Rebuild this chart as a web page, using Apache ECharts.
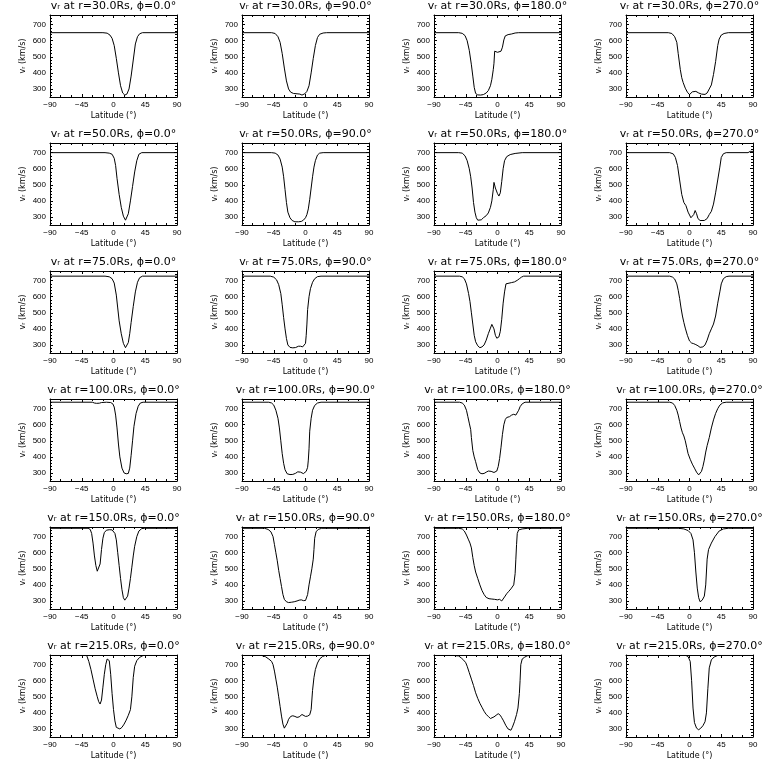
<!DOCTYPE html>
<html><head><meta charset="utf-8">
<script src="https://cdn.jsdelivr.net/npm/echarts@6/dist/echarts.min.js"></script>
<style>html,body{margin:0;padding:0;background:#fff}#c{width:768px;height:768px}</style>
</head><body><div id="c"></div>
<script>
// ---------- data ----------
const radii = [30, 50, 75, 100, 150, 215];
const phis = [0, 90, 180, 270];
const latTicks = [-90, -45, 0, 45, 90];
const velTicks = [300, 400, 500, 600, 700];
const velMinorTicks = [260, 280, 300, 320, 340, 360, 380, 400, 420, 440, 460, 480, 500, 520, 540, 560, 580, 600, 620, 640, 660, 680, 700, 720, 740];

// r = 30 Rs
const r30_p0 = [[-90,650],[-15,650],[-9,647],[-5,635],[-2,615],[1,570],[4,490],[7,400],[10,320],[13,275],[16,262],[19,268],[22,300],[25,380],[28,480],[31,580],[34,625],[37,643],[41,650],[90,650]];
const r30_p90 = [[-90,650],[-48,650],[-43,645],[-39,625],[-36,590],[-33,520],[-30,430],[-27,350],[-24,300],[-21,280],[-17,272],[-12,270],[-8,268],[-5,262],[-3,266],[-1,270],[2,285],[5,320],[8,400],[11,490],[14,570],[17,620],[20,640],[25,648],[30,650],[90,650]];
const r30_p180 = [[-90,650],[-55,650],[-50,646],[-46,632],[-43,600],[-40,540],[-37,450],[-35,380],[-33,310],[-31,272],[-28,263],[-24,262],[-20,265],[-16,275],[-13,290],[-10,320],[-8,360],[-6,420],[-5,460],[-4,535],[-2,538],[0,528],[2,518],[5,535],[7,560],[9,605],[11,630],[15,638],[20,642],[25,648],[30,650],[90,650]];
const r30_p270 = [[-90,650],[-30,650],[-25,645],[-21,625],[-18,590],[-16,520],[-13,420],[-11,370],[-9,340],[-6,305],[-3,280],[0,265],[2,268],[4,282],[6,290],[9,285],[13,275],[17,268],[22,266],[25,275],[28,300],[31,325],[34,390],[37,470],[40,570],[42,610],[45,635],[49,645],[55,650],[90,650]];

// r = 50 Rs
const r50_p0 = [[-90,700],[-12,700],[-6,697],[-2,690],[1,665],[3,620],[5,540],[8,440],[11,360],[14,305],[17,280],[19,285],[21,320],[24,400],[27,490],[30,580],[33,650],[36,690],[40,700],[90,700]];
const r50_p90 = [[-90,700],[-48,700],[-43,697],[-39,685],[-36,660],[-33,610],[-31,550],[-29,470],[-27,390],[-25,330],[-22,295],[-19,278],[-15,270],[-10,270],[-6,272],[-3,280],[0,295],[2,315],[4,350],[6,410],[8,480],[10,550],[12,610],[14,650],[17,685],[20,697],[25,700],[90,700]];
const r50_p180 = [[-90,700],[-55,700],[-50,697],[-46,680],[-43,650],[-40,600],[-38,550],[-36,480],[-34,390],[-32,330],[-30,295],[-28,280],[-26,268],[-23,282],[-20,295],[-16,308],[-13,325],[-10,360],[-8,400],[-6,470],[-5,515],[-3,480],[0,445],[2,430],[4,450],[6,520],[8,600],[10,650],[13,675],[18,688],[25,695],[35,700],[90,700]];
const r50_p270 = [[-90,700],[-28,700],[-23,692],[-20,670],[-17,620],[-14,530],[-11,440],[-8,390],[-5,370],[-2,330],[2,295],[4,285],[6,315],[8,340],[10,320],[12,290],[15,278],[21,278],[25,290],[28,315],[31,335],[34,380],[37,450],[40,530],[43,610],[45,670],[48,693],[52,700],[83,700],[86,708],[88,712],[90,708]];

// r = 75 Rs
const r75_p0 = [[-90,728],[-12,728],[-6,724],[-2,712],[1,685],[4,610],[6,530],[8,450],[11,370],[14,310],[17,283],[19,285],[21,315],[23,370],[25,440],[28,540],[31,630],[34,690],[37,718],[41,728],[90,728]];
const r75_p90 = [[-90,728],[-50,728],[-45,722],[-41,705],[-38,675],[-35,620],[-33,550],[-31,470],[-29,400],[-27,340],[-25,300],[-22,285],[-18,282],[-14,284],[-10,292],[-7,292],[-4,288],[-2,292],[0,310],[1,360],[2,430],[3,520],[5,600],[7,650],[10,690],[13,712],[17,725],[22,728],[90,728]];
const r75_p180 = [[-90,728],[-54,728],[-50,724],[-47,712],[-44,680],[-41,620],[-39,570],[-37,500],[-35,430],[-33,360],[-31,320],[-28,295],[-25,283],[-22,288],[-19,300],[-16,330],[-13,370],[-10,405],[-8,428],[-7,430],[-5,400],[-3,360],[-1,342],[0,338],[2,350],[4,385],[6,460],[8,560],[10,630],[12,680],[14,686],[20,688],[24,692],[26,690],[28,702],[31,712],[34,722],[37,728],[90,728]];
const r75_p270 = [[-90,728],[-28,728],[-24,722],[-21,710],[-18,680],[-16,640],[-14,590],[-12,530],[-10,480],[-8,440],[-6,405],[-3,360],[0,325],[3,312],[6,308],[9,302],[12,295],[15,285],[17,283],[19,288],[22,300],[25,330],[28,370],[31,400],[34,430],[37,480],[40,560],[43,630],[45,680],[48,712],[52,725],[56,728],[90,728]];

// r = 100 Rs
const r100_p0 = [[-90,740],[-30,740],[-27,735],[-24,733],[-20,734],[-17,738],[-10,740],[-4,738],[-1,730],[1,710],[3,660],[5,580],[7,480],[9,400],[12,330],[15,300],[18,295],[21,297],[23,330],[25,410],[27,500],[29,590],[32,670],[35,715],[38,735],[42,740],[90,740]];
const r100_p90 = [[-90,740],[-52,740],[-48,735],[-45,722],[-42,690],[-39,640],[-37,580],[-35,500],[-33,420],[-31,360],[-29,320],[-26,295],[-22,290],[-18,291],[-14,298],[-11,307],[-9,314],[-7,305],[-5,297],[-3,296],[-1,300],[1,310],[3,335],[4,380],[5,450],[6,560],[8,640],[10,690],[13,720],[17,735],[22,740],[90,740]];
const r100_p180 = [[-90,740],[-54,740],[-50,735],[-47,722],[-44,690],[-42,650],[-40,610],[-38,570],[-37,520],[-35,440],[-33,400],[-31,370],[-28,320],[-25,300],[-22,295],[-19,297],[-16,305],[-13,312],[-11,314],[-9,310],[-7,305],[-5,303],[-3,305],[-1,312],[1,340],[3,390],[5,460],[7,540],[9,600],[11,632],[13,645],[17,650],[20,660],[23,665],[26,660],[28,670],[30,690],[32,712],[35,730],[39,740],[90,740]];
const r100_p270 = [[-90,740],[-28,740],[-24,735],[-21,720],[-18,690],[-16,660],[-14,620],[-12,580],[-10,550],[-8,530],[-6,500],[-4,460],[-2,420],[1,385],[4,355],[7,330],[10,305],[13,288],[15,295],[17,310],[19,340],[21,380],[23,430],[25,470],[28,520],[31,580],[34,630],[37,670],[40,700],[43,722],[47,736],[52,740],[90,740]];

// r = 150 Rs
const r150_p0 = [[-90,752],[-36,752],[-33,745],[-31,720],[-29,660],[-27,580],[-25,520],[-23,485],[-22,478],[-21,485],[-19,530],[-17,620],[-15,690],[-13,725],[-10,740],[-6,743],[-2,742],[0,738],[2,720],[4,680],[6,600],[8,520],[10,440],[12,370],[14,320],[16,305],[18,308],[20,330],[22,380],[24,440],[26,510],[28,580],[30,640],[33,700],[36,735],[40,750],[44,752],[90,752]];
const r150_p90 = [[-90,752],[-58,752],[-53,745],[-49,730],[-46,700],[-44,650],[-42,600],[-40,550],[-38,490],[-36,440],[-34,390],[-32,340],[-30,310],[-27,295],[-24,290],[-20,292],[-16,295],[-12,300],[-9,305],[-6,307],[-3,302],[0,303],[2,315],[3,340],[5,400],[7,450],[9,500],[11,560],[12,620],[13,690],[15,730],[18,745],[23,752],[90,752]];
const r150_p180 = [[-90,752],[-55,752],[-50,748],[-47,735],[-44,710],[-41,680],[-39,660],[-37,630],[-35,570],[-33,520],[-31,480],[-28,440],[-25,400],[-22,365],[-19,340],[-16,322],[-12,314],[-8,312],[-4,310],[0,307],[3,310],[5,305],[6,300],[8,310],[10,325],[13,345],[16,360],[19,375],[21,385],[23,400],[25,470],[26,560],[27,650],[28,720],[30,742],[35,748],[43,752],[90,752]];
const r150_p270 = [[-90,752],[-15,752],[-8,748],[-2,738],[2,720],[5,680],[7,600],[9,480],[11,380],[13,320],[15,295],[18,305],[21,330],[23,400],[25,560],[27,620],[31,660],[36,700],[42,735],[48,748],[55,752],[90,752]];

// r = 215 Rs
const r215_p0 = [[-90,757],[-38,757],[-35,720],[-32,670],[-29,610],[-26,550],[-23,500],[-21,470],[-19,455],[-17,480],[-15,560],[-13,640],[-11,700],[-9,735],[-8,740],[-6,725],[-4,640],[-2,520],[0,420],[2,350],[4,310],[6,300],[9,300],[12,310],[15,330],[18,355],[21,385],[24,420],[26,500],[28,620],[30,690],[33,725],[37,745],[42,757],[90,757]];
const r215_p90 = [[-90,757],[-62,757],[-57,750],[-52,735],[-48,720],[-46,700],[-44,660],[-42,610],[-40,560],[-38,500],[-36,440],[-34,380],[-32,330],[-30,305],[-28,310],[-26,335],[-24,360],[-21,378],[-18,382],[-15,378],[-12,372],[-9,375],[-7,385],[-5,390],[-3,380],[0,378],[3,380],[6,388],[8,420],[9,480],[10,540],[12,620],[14,670],[17,710],[20,735],[24,750],[28,757],[90,757]];
const r215_p180 = [[-90,757],[-62,757],[-55,754],[-51,740],[-48,728],[-45,712],[-43,690],[-40,650],[-37,610],[-34,570],[-31,525],[-28,490],[-25,460],[-22,435],[-19,410],[-16,390],[-13,378],[-10,365],[-8,370],[-5,375],[-2,385],[1,395],[2,400],[4,385],[6,370],[8,355],[10,345],[12,320],[15,300],[17,290],[19,292],[21,310],[24,345],[27,390],[29,430],[31,520],[32,600],[33,700],[35,735],[38,745],[42,755],[46,757],[90,757]];
const r215_p270 = [[-90,757],[-5,757],[-2,750],[1,720],[3,600],[5,430],[7,340],[10,305],[13,295],[16,305],[19,320],[22,345],[24,400],[26,550],[28,680],[31,730],[35,748],[40,757],[90,757]];

const panels = [
  [r30_p0, r30_p90, r30_p180, r30_p270],
  [r50_p0, r50_p90, r50_p180, r50_p270],
  [r75_p0, r75_p90, r75_p180, r75_p270],
  [r100_p0, r100_p90, r100_p180, r100_p270],
  [r150_p0, r150_p90, r150_p180, r150_p270],
  [r215_p0, r215_p90, r215_p180, r215_p270]
];

// ---------- layout / style ----------
const TXT = 'DejaVu Sans';
const NUM = 'Liberation Sans';
const K = '#000';
const option = {
  backgroundColor: '#fff', animation: false,
  title: [], grid: [], xAxis: [], yAxis: [], series: []
};
const tickFmt = v => (v < 0 ? '\u2212' + (-v) : String(v));

radii.forEach((r, ri) => {
  phis.forEach((phi, ci) => {
    const gi = ri * 4 + ci;
    const L = 50 + 192 * ci, T = 15 + 128 * ri, W = 127, H = 82;
    option.grid.push({ left: L, top: T, width: W, height: H, show: false });
    option.title.push({
      text: 'v\u1d63 at r=' + r.toFixed(1) + 'Rs, \u03d5=' + phi.toFixed(1) + '\u00b0',
      left: L + W / 2, top: 128 * ri + 1, textAlign: 'center', padding: 0,
      textStyle: { fontFamily: TXT, fontSize: 11, fontWeight: 'normal', color: K }
    });
    const xi = option.xAxis.length;
    const xBase = {
      gridIndex: gi, type: 'value', min: -90, max: 90, interval: 45,
      axisLine: { show: true, onZero: false, lineStyle: { color: K, width: 1 } },
      splitLine: { show: false },
      axisTick: { show: true, inside: true, length: 3, lineStyle: { color: K } },
      minorTick: { show: true, splitNumber: 3, length: 2, lineStyle: { color: K } }
    };
    option.xAxis.push(Object.assign({}, xBase, {
      position: 'bottom',
      axisLabel: { show: true, color: K, fontFamily: NUM, fontSize: 8, margin: 4, formatter: tickFmt,
                   customValues: latTicks },
      name: 'Latitude (\u00b0)', nameLocation: 'middle', nameGap: 15,
      nameTextStyle: { fontFamily: TXT, fontSize: 8, color: K }
    }));
    option.xAxis.push(Object.assign({}, xBase, { position: 'top', axisLabel: { show: false } }));

    const yi = option.yAxis.length;
    const yBase = {
      gridIndex: gi, type: 'value', min: 250, max: 760,
      splitLine: { show: false }
    };
    option.yAxis.push(Object.assign({}, yBase, {
      position: 'left',
      axisLine: { show: true, onZero: false, lineStyle: { color: K, width: 1 } },
      axisTick: { show: true, inside: true, length: 3, customValues: velTicks, lineStyle: { color: K } },
      axisLabel: { show: true, color: K, fontFamily: NUM, fontSize: 8, margin: 4, customValues: velTicks },
      name: 'v\u1d63 (km/s)', nameLocation: 'middle', nameGap: 23,
      nameTextStyle: { fontFamily: TXT, fontSize: 8, color: K }
    }));
    option.yAxis.push(Object.assign({}, yBase, {
      position: 'left', axisLine: { show: false, onZero: false },
      axisTick: { show: true, inside: true, length: 2, customValues: velMinorTicks, lineStyle: { color: K } },
      axisLabel: { show: false }
    }));
    option.yAxis.push(Object.assign({}, yBase, {
      position: 'right',
      axisLine: { show: true, onZero: false, lineStyle: { color: K, width: 1 } },
      axisTick: { show: true, inside: true, length: 3, customValues: velTicks, lineStyle: { color: K } },
      axisLabel: { show: false }
    }));
    option.yAxis.push(Object.assign({}, yBase, {
      position: 'right', axisLine: { show: false, onZero: false },
      axisTick: { show: true, inside: true, length: 2, customValues: velMinorTicks, lineStyle: { color: K } },
      axisLabel: { show: false }
    }));

    option.series.push({
      type: 'line', xAxisIndex: xi, yAxisIndex: yi, data: panels[ri][ci],
      showSymbol: false, symbol: 'none', silent: true, clip: true,
      lineStyle: { color: K, width: 1 }
    });
  });
});

const chart = echarts.init(document.getElementById('c'), null, { renderer: 'canvas' });
chart.setOption(option);
</script>
</body></html>
